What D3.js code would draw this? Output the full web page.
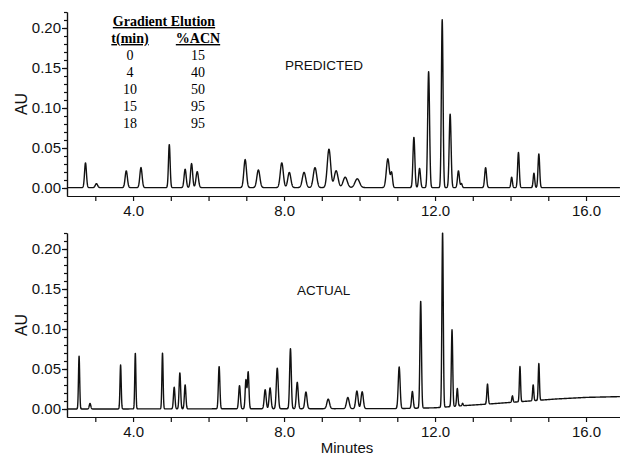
<!DOCTYPE html>
<html>
<head>
<meta charset="utf-8">
<script src="https://cdn.jsdelivr.net/npm/d3@7"></script>
<style>
  html, body { margin: 0; padding: 0; background: #fff; }
  svg { display: block; }
  .tick text { font-family: "Liberation Sans", Arial, sans-serif; font-size: 15px; fill: #111; }
  .domain, .tick line { stroke: #111; }
  .label { font-family: "Liberation Sans", Arial, sans-serif; fill: #111; }
  .tbl { font-family: "Liberation Serif", "Times New Roman", serif; font-size: 14px; fill: #000; }
</style>
</head>
<body>
<svg id="chart" width="620" height="457"></svg>
<script>
// axis ranges and ticks
const timeDomain = [2.25, 16.9];
const auDomain = [-0.01, 0.22];
const timeMajorTicks = [4, 8, 12, 16];
const auMajorTicks = [0, 0.05, 0.10, 0.15, 0.20];

// gradient table
const gradientTime = [0, 4, 10, 15, 18];
const gradientACN = [15, 40, 50, 95, 95];

// predicted chromatogram: peak retention time (min), height (AU), sigma (min)
const predictedTimes   = [2.74, 3.03, 3.82, 4.21, 4.96, 5.38, 5.55, 5.70, 6.97, 7.32, 7.94, 8.14, 8.53, 8.82, 9.19, 9.38, 9.62, 9.94, 10.75, 10.85, 11.44, 11.59, 11.83, 12.19, 12.40, 12.62, 12.70, 13.34, 14.03, 14.21, 14.62, 14.75];
const predictedHeights = [0.031, 0.005, 0.021, 0.025, 0.054, 0.023, 0.030, 0.020, 0.035, 0.022, 0.031, 0.019, 0.019, 0.025, 0.048, 0.021, 0.013, 0.011, 0.036, 0.018, 0.063, 0.024, 0.145, 0.210, 0.092, 0.021, 0.005, 0.025, 0.013, 0.044, 0.018, 0.042];
const predictedWidths  = [0.025, 0.03, 0.03, 0.03, 0.022, 0.028, 0.028, 0.032, 0.035, 0.04, 0.04, 0.04, 0.045, 0.045, 0.045, 0.05, 0.055, 0.06, 0.04, 0.025, 0.025, 0.025, 0.025, 0.022, 0.025, 0.025, 0.02, 0.025, 0.02, 0.022, 0.02, 0.022];

// actual chromatogram: peaks above a drifting baseline
const actualTimes   = [2.57, 2.86, 3.67, 4.06, 4.78, 5.09, 5.24, 5.38, 6.28, 6.82, 6.99, 7.05, 7.50, 7.63, 7.82, 8.17, 8.35, 8.58, 9.17, 9.69, 9.93, 10.07, 11.05, 11.40, 11.62, 12.20, 12.45, 12.59, 12.73, 13.39, 14.05, 14.25, 14.60, 14.75];
const actualHeights = [0.066, 0.007, 0.055, 0.070, 0.070, 0.027, 0.045, 0.030, 0.053, 0.029, 0.036, 0.046, 0.024, 0.026, 0.051, 0.075, 0.033, 0.021, 0.012, 0.014, 0.022, 0.021, 0.052, 0.021, 0.134, 0.219, 0.096, 0.022, 0.003, 0.025, 0.008, 0.044, 0.020, 0.046];
const actualWidths  = [0.016, 0.02, 0.016, 0.015, 0.016, 0.02, 0.02, 0.02, 0.02, 0.022, 0.02, 0.02, 0.025, 0.025, 0.025, 0.022, 0.025, 0.028, 0.035, 0.035, 0.03, 0.03, 0.025, 0.022, 0.02, 0.018, 0.018, 0.018, 0.015, 0.018, 0.016, 0.016, 0.016, 0.016];
const actualBaselineTimes = [2.25, 11.0, 12.0, 12.7, 13.5, 14.5, 15.2, 16.0, 16.9];
const actualBaselineAU    = [0.0, 0.0005, 0.0015, 0.004, 0.0065, 0.010, 0.0125, 0.0145, 0.0155];

const svg = d3.select('#chart');

const panels = [
  { top: 12, bottom: 196, name: 'PREDICTED', nameX: 285, nameY: 70,
    times: predictedTimes, heights: predictedHeights, widths: predictedWidths, baseline: null },
  { top: 233, bottom: 417, name: 'ACTUAL', nameX: 297, nameY: 295,
    times: actualTimes, heights: actualHeights, widths: actualWidths,
    baseline: d3.scaleLinear().domain(actualBaselineTimes).range(actualBaselineAU) }
];

const left = 67, right = 620;
const x = d3.scaleLinear().domain(timeDomain).range([left, right]);
const sampleTimes = d3.range(timeDomain[0], timeDomain[1] + 0.001, 0.004);

panels.forEach(p => {
  const y = d3.scaleLinear().domain(auDomain).range([p.bottom, p.top]);
  const g = svg.append('g');

  // trace = baseline + sum of gaussian peaks
  const trace = sampleTimes.map(t => {
    let v = p.baseline ? p.baseline(t) : 0.0005;
    p.times.forEach((c, i) => {
      const z = (t - c) / p.widths[i];
      if (Math.abs(z) < 8) v += p.heights[i] * Math.exp(-0.5 * z * z);
    });
    return [t, v];
  });

  const line = d3.line()
    .x(d => x(d[0]))
    .y(d => y(d[1]));

  g.append('path')
    .datum(trace)
    .attr('d', line)
    .attr('fill', 'none')
    .attr('stroke', '#111')
    .attr('stroke-width', 1.4)
    .attr('stroke-linejoin', 'round');

  // y axis: minor then major
  g.append('g')
    .attr('transform', `translate(${left},0)`)
    .call(d3.axisLeft(y)
      .tickValues(d3.range(0, 0.2201, 0.01))
      .tickSize(3)
      .tickSizeOuter(0)
      .tickFormat(''));
  g.append('g')
    .attr('transform', `translate(${left},0)`)
    .call(d3.axisLeft(y)
      .tickValues(auMajorTicks)
      .tickSize(5)
      .tickPadding(1)
      .tickSizeOuter(0)
      .tickFormat(d3.format('.2f')));

  // x axis: a tick every minute, labels every 4
  g.append('g')
    .attr('transform', `translate(0,${p.bottom})`)
    .call(d3.axisBottom(x)
      .tickValues(d3.range(3, 17, 1))
      .tickSize(5)
      .tickPadding(4)
      .tickSizeOuter(0)
      .tickFormat(d => timeMajorTicks.includes(d) ? d3.format('.1f')(d) : ''));

  g.selectAll('.domain, .tick line').attr('stroke-width', 1.2);

  g.append('text')
    .attr('class', 'label')
    .attr('transform', `translate(27,${(p.top + p.bottom) / 2}) rotate(-90)`)
    .attr('text-anchor', 'middle')
    .attr('font-size', 16)
    .text('AU');

  g.append('text')
    .attr('class', 'label')
    .attr('x', p.nameX)
    .attr('y', p.nameY)
    .attr('font-size', 13.5)
    .text(p.name);
});

svg.append('text')
  .attr('class', 'label')
  .attr('x', 347)
  .attr('y', 453)
  .attr('text-anchor', 'middle')
  .attr('font-size', 15)
  .text('Minutes');

// gradient table
const tbl = svg.append('g');
const colX = [130, 198];
tbl.append('text')
  .attr('class', 'tbl')
  .attr('x', 164).attr('y', 26)
  .attr('text-anchor', 'middle')
  .attr('font-weight', 'bold')
  .attr('text-decoration', 'underline')
  .text('Gradient Elution');
['t(min)', '%ACN'].forEach((h, i) => {
  tbl.append('text')
    .attr('class', 'tbl')
    .attr('x', colX[i]).attr('y', 43)
    .attr('text-anchor', 'middle')
    .attr('font-weight', 'bold')
    .attr('text-decoration', 'underline')
    .text(h);
});
gradientTime.forEach((t, i) => {
  const rowY = 60 + i * 17;
  tbl.append('text')
    .attr('class', 'tbl')
    .attr('x', colX[0]).attr('y', rowY)
    .attr('text-anchor', 'middle')
    .text(t);
  tbl.append('text')
    .attr('class', 'tbl')
    .attr('x', colX[1]).attr('y', rowY)
    .attr('text-anchor', 'middle')
    .text(gradientACN[i]);
});
</script>
</body>
</html>
